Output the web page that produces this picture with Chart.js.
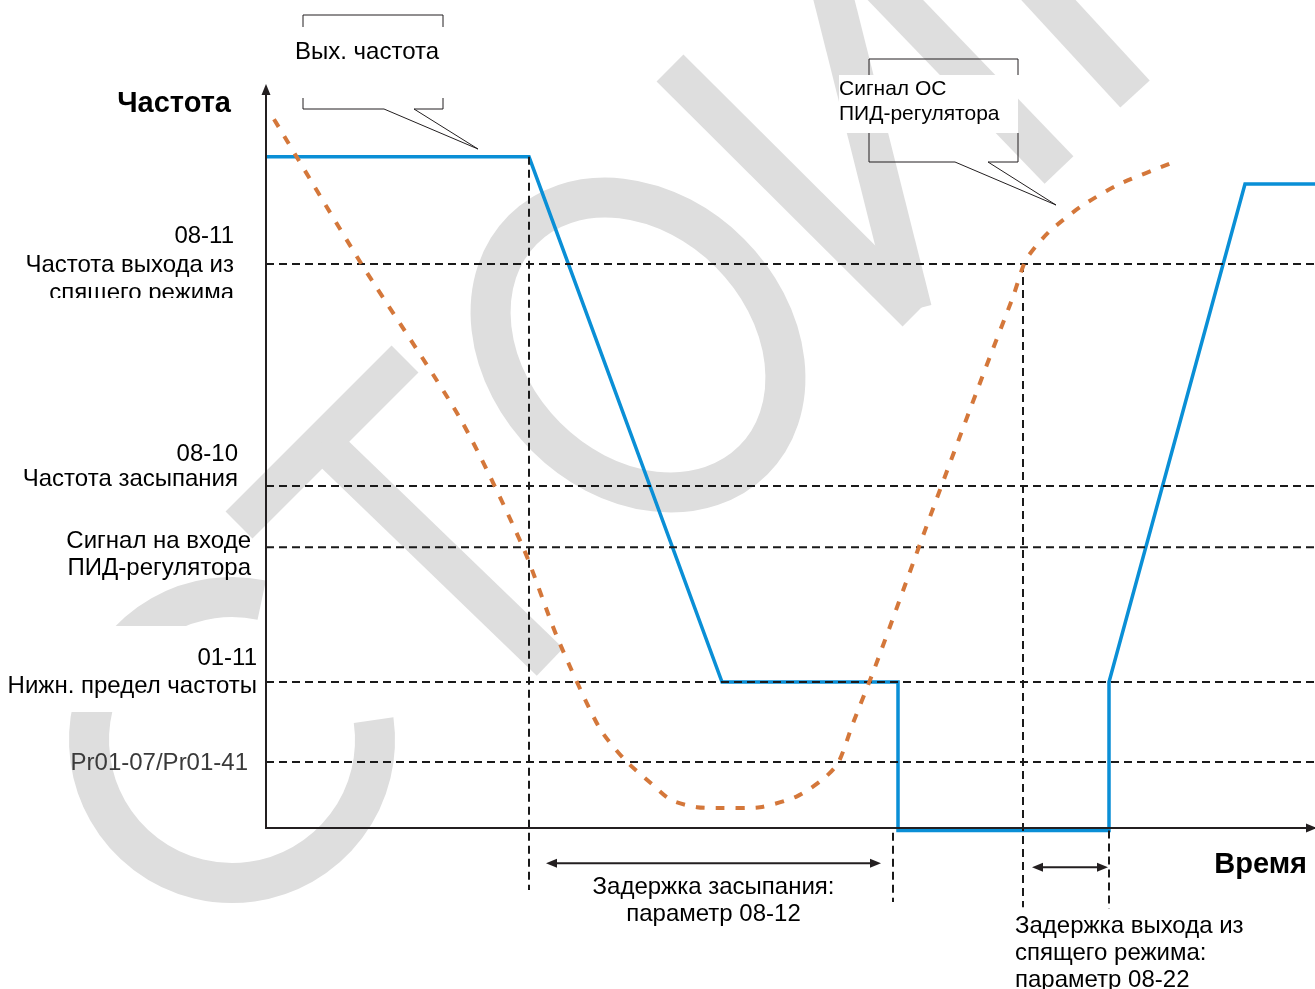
<!DOCTYPE html>
<html>
<head>
<meta charset="utf-8">
<script src="https://cdn.jsdelivr.net/npm/chart.js@4.4.1/dist/chart.umd.min.js"></script>
<style>
  html, body { margin: 0; padding: 0; background: #fff; }
  #wrap { width: 1315px; height: 989px; position: relative; }
</style>
</head>
<body>
<div id="wrap"><canvas id="chart"></canvas></div>
<script>
// time axis: 1 unit = 10 px, frequency axis: 1 unit = 8 px
const X_MAX = 104.9;
const Y_MAX = 92.875;

// output frequency (blue)
const outTime = [0, 26.3, 45.6, 63.2, 63.2, 84.3, 84.3, 97.9, 104.9];
const outFreq = [83.9, 83.9, 18.25, 18.25, -0.3, -0.3, 18.25, 80.5, 80.5];

// PID feedback signal (orange, dotted)
const fbTime = [0.8, 9.5, 19.5, 25.7, 29.1, 33.3, 35.9, 38.5, 40.5, 43.1, 45.7, 49.4, 53.0,
  55.6, 57.2, 58.7, 60.9, 66.4, 71.9, 74.7, 75.9, 77.1, 78.5, 81.4, 85.2, 90.8];
const fbValue = [88.6, 70.6, 51.0, 35.1, 23.9, 12.6, 8.5, 5.6, 3.5, 2.6, 2.5, 2.6, 3.9,
  6.0, 8.1, 13.1, 20.1, 38.9, 57.3, 66.4, 70.8, 72.9, 74.75, 77.6, 80.4, 83.25];

// parameter levels (horizontal dashed lines)
const levelValues = [70.5, 42.75, 35.1, 18.25, 8.25];
const levelLabels = [
  ["08-11", "Частота выхода из", "спящего режима"],
  ["08-10", "Частота засыпания"],
  ["Сигнал на входе", "ПИД-регулятора"],
  ["01-11", "Нижн. предел частоты"],
  ["Pr01-07/Pr01-41"],
];

// vertical markers
const markTime = [26.3, 62.7, 75.7, 84.3];
const markTop = [83.9, -0.6, 70.5, -0.3];
const markBottom = [-7.75, -9.25, -9.9, -10.1];

// delay spans
const spanFrom = [28.0, 76.6];
const spanTo = [61.5, 84.2];
const spanLevel = [-4.4, -4.9];
const spanLabels = [
  ["Задержка засыпания:", "параметр 08-12"],
  ["Задержка выхода из", "спящего режима:", "параметр 08-22"],
];

const INK = "#231f20";
const BLUE = "#0a8fd6";
const ORANGE = "#d4773a";
const WM = "#dedede";

const datasets = [];

levelValues.forEach((v) => {
  datasets.push({
    data: [{ x: 0, y: v }, { x: X_MAX, y: v }],
    borderColor: "#1a1a1a",
    borderWidth: 2,
    borderDash: [8, 5],
    pointRadius: 0,
    clip: false,
    order: 1,
  });
});

markTime.forEach((t, i) => {
  datasets.push({
    data: [{ x: t, y: markTop[i] }, { x: t, y: markBottom[i] }],
    borderColor: "#1a1a1a",
    borderWidth: 2,
    borderDash: [8, 5],
    pointRadius: 0,
    clip: false,
    order: 1,
  });
});

datasets.push({
  label: "Вых. частота",
  data: outTime.map((t, i) => ({ x: t, y: outFreq[i] })),
  borderColor: BLUE,
  borderWidth: 3.5,
  pointRadius: 0,
  tension: 0,
  clip: false,
  order: 2,
});

datasets.push({
  label: "Сигнал ОС ПИД-регулятора",
  data: fbTime.map((t, i) => ({ x: t, y: fbValue[i] })),
  borderColor: ORANGE,
  borderWidth: 4,
  borderDash: [9, 11],
  pointRadius: 0,
  tension: 0.25,
  clip: false,
  order: 0,
});

const line = (ctx, x1, y1, x2, y2) => {
  ctx.beginPath();
  ctx.moveTo(x1, y1);
  ctx.lineTo(x2, y2);
  ctx.stroke();
};

const poly = (ctx, pts) => {
  ctx.beginPath();
  ctx.moveTo(pts[0][0], pts[0][1]);
  pts.slice(1).forEach((p) => ctx.lineTo(p[0], p[1]));
  ctx.stroke();
};

const arrowHead = (ctx, x, y, dir) => {
  // dir: "up", "left", "right"
  ctx.beginPath();
  if (dir === "up") {
    ctx.moveTo(x, y);
    ctx.lineTo(x - 4.5, y + 11);
    ctx.lineTo(x + 4.5, y + 11);
  } else if (dir === "left") {
    ctx.moveTo(x, y);
    ctx.lineTo(x + 11, y - 4.5);
    ctx.lineTo(x + 11, y + 4.5);
  } else {
    ctx.moveTo(x, y);
    ctx.lineTo(x - 11, y - 4.5);
    ctx.lineTo(x - 11, y + 4.5);
  }
  ctx.closePath();
  ctx.fill();
};

const text = (ctx, str, x, y, align, font, color) => {
  ctx.font = font;
  ctx.fillStyle = color || "#000";
  ctx.textAlign = align;
  ctx.textBaseline = "middle";
  ctx.fillText(str, x, y + 1.5);
};

const watermark = (ctx) => {
  ctx.save();
  ctx.strokeStyle = WM;
  ctx.lineCap = "butt";

  // C
  ctx.lineWidth = 40;
  ctx.beginPath();
  ctx.arc(232, 740, 143, (-8 * Math.PI) / 180, (282 * Math.PI) / 180);
  ctx.stroke();

  // T
  ctx.lineWidth = 38;
  line(ctx, 405, 359, 239, 525);
  line(ctx, 322, 442, 550, 662);

  // O
  ctx.lineWidth = 40;
  ctx.beginPath();
  ctx.ellipse(638, 345, 163, 130, Math.PI / 4, 0, Math.PI * 2);
  ctx.stroke();

  // M
  ctx.lineWidth = 38;
  line(ctx, 670, 68, 916, 313);
  ctx.lineWidth = 40;
  line(ctx, 831, -12, 912, 310);
  line(ctx, 880, -16, 1059, 170);
  line(ctx, 1030, -20, 1135, 94);
  ctx.restore();

  // label backgrounds that hide the watermark
  ctx.fillStyle = "#fff";
  ctx.fillRect(0, 626, 260, 86);
  ctx.fillRect(839, 75, 179, 58);
};

const diagram = {
  id: "diagram",
  beforeDraw(chart) {
    const ctx = chart.ctx;
    ctx.save();
    ctx.fillStyle = "#fff";
    ctx.fillRect(0, 0, chart.width, chart.height);
    watermark(ctx);
    ctx.restore();
  },
  afterDatasetsDraw(chart) {
    const ctx = chart.ctx;
    const xs = chart.scales.x;
    const ys = chart.scales.y;
    const x0 = xs.getPixelForValue(0);
    const y0 = ys.getPixelForValue(0);
    const top = chart.chartArea.top;
    const right = chart.chartArea.right;

    ctx.save();
    // axes
    ctx.strokeStyle = INK;
    ctx.fillStyle = INK;
    ctx.lineWidth = 2;
    line(ctx, x0, y0 + 1, x0, top + 8);
    arrowHead(ctx, x0, top - 1, "up");
    line(ctx, x0 - 1, y0, right, y0);
    arrowHead(ctx, right + 2, y0, "right");

    // delay spans
    spanFrom.forEach((f, i) => {
      const a = xs.getPixelForValue(f);
      const b = xs.getPixelForValue(spanTo[i]);
      const y = ys.getPixelForValue(spanLevel[i]);
      ctx.lineWidth = 2;
      line(ctx, a + 4, y, b - 4, y);
      arrowHead(ctx, a, y, "left");
      arrowHead(ctx, b, y, "right");
    });

    // callouts
    ctx.lineWidth = 1;
    poly(ctx, [[303, 27], [303, 15], [443, 15], [443, 27]]);
    poly(ctx, [[303, 98], [303, 109], [384, 109], [478, 149], [414, 109], [443, 109], [443, 98]]);
    poly(ctx, [[869, 75], [869, 59], [1018, 59], [1018, 75]]);
    poly(ctx, [[869, 133], [869, 162], [955, 162], [1056, 205], [988, 162], [1018, 162], [1018, 133]]);

    const F = "24px 'Liberation Sans', Arial, sans-serif";
    const S = "21px 'Liberation Sans', Arial, sans-serif";
    text(ctx, "Вых. частота", 367, 50.5, "center", F);
    text(ctx, "Сигнал ОС", 839, 87.5, "left", S);
    text(ctx, "ПИД-регулятора", 839, 113, "left", S);

    // axis titles
    const B = "bold 29px 'Liberation Sans', Arial, sans-serif";
    text(ctx, "Частота", 231, 102, "right", B);
    text(ctx, "Время", 1307, 863.5, "right", B);

    // level labels
    const layout = [
      { right: 234, dy: [-29, -0.5, 27.5] },
      { right: 238, dy: [-33.5, -8] },
      { right: 251, dy: [-7, 20] },
      { right: 257, dy: [-25, 2.5] },
      { right: 248, dy: [0] },
    ];
    levelValues.forEach((v, i) => {
      const y = ys.getPixelForValue(v);
      const l = layout[i];
      levelLabels[i].forEach((s, k) => {
        ctx.save();
        if (i === 0 && k === 2) {
          ctx.beginPath();
          ctx.rect(0, 0, 260, y + 34);
          ctx.clip();
        }
        text(ctx, s, l.right, y + l.dy[k], "right", F, i === 4 ? "#3a3a3a" : "#000");
        ctx.restore();
      });
    });

    // span labels
    const cx = xs.getPixelForValue((spanFrom[0] + spanTo[0]) / 2);
    text(ctx, spanLabels[0][0], cx, 886, "center", F);
    text(ctx, spanLabels[0][1], cx, 913, "center", F);
    const lx = xs.getPixelForValue(markTime[2]) - 8;
    text(ctx, spanLabels[1][0], lx, 924.5, "left", F);
    text(ctx, spanLabels[1][1], lx, 952, "left", F);
    text(ctx, spanLabels[1][2], lx, 979, "left", F);
    ctx.restore();
  },
};

new Chart(document.getElementById("chart"), {
  type: "line",
  data: { datasets },
  options: {
    responsive: true,
    maintainAspectRatio: false,
    animation: false,
    layout: { padding: { left: 266, right: 0, top: 85, bottom: 161 } },
    plugins: { legend: { display: false }, tooltip: { enabled: false } },
    scales: {
      x: { type: "linear", min: 0, max: X_MAX, display: false },
      y: { type: "linear", min: 0, max: Y_MAX, display: false },
    },
  },
  plugins: [diagram],
});
</script>
</body>
</html>
